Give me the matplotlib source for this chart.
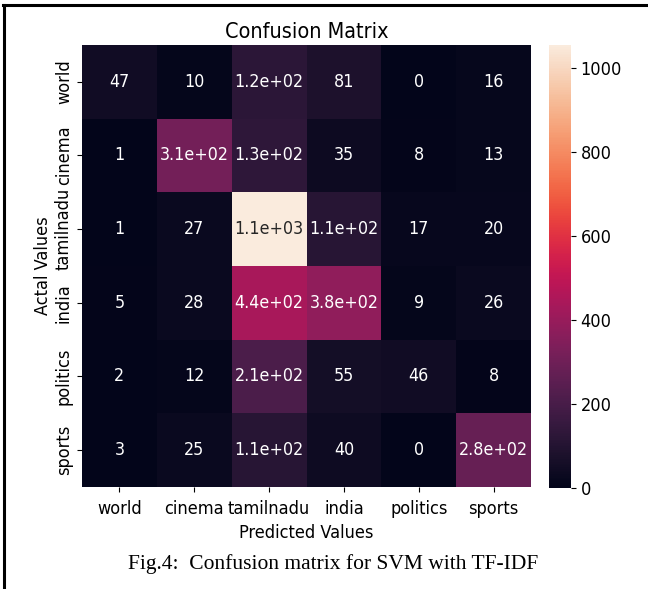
import matplotlib
matplotlib.use("Agg")
from matplotlib import pyplot as plt
from matplotlib.lines import Line2D
import numpy as np
import seaborn as sns

labels = ['world', 'cinema', 'tamilnadu', 'india', 'politics', 'sports']

row_world = [47, 10, 120, 81, 0, 16]
row_cinema = [1, 310, 130, 35, 8, 13]
row_tamilnadu = [1, 27, 1055, 110, 17, 20]
row_india = [5, 28, 440, 380, 9, 26]
row_politics = [2, 12, 210, 55, 46, 8]
row_sports = [3, 25, 110, 40, 0, 280]

cm = np.array([row_world, row_cinema, row_tamilnadu, row_india, row_politics, row_sports])

fig = plt.figure(figsize=(6.48, 5.89), dpi=100)
ax = fig.add_axes([0.1265, 0.1732, 0.693, 0.7504])
cax = fig.add_axes([0.847, 0.1715, 0.034, 0.752])

txt = dict(family='DejaVu Sans', fontstretch='condensed')

sns.heatmap(cm, annot=True, ax=ax, cbar_ax=cax,
            annot_kws={'size': 12.8, **txt},
            xticklabels=labels, yticklabels=labels)

ax.set_title('Confusion Matrix', fontsize=15.5, pad=5, **txt)
ax.set_xlabel('Predicted Values', fontsize=13, labelpad=4, **txt)
ax.set_ylabel('Actal Values', fontsize=13, labelpad=2, **txt)
ax.set_xticklabels(labels, rotation=0, fontsize=13, **txt)
ax.set_yticklabels(labels, rotation=90, va='center', fontsize=13, **txt)
ax.tick_params(axis='x', pad=6)
ax.tick_params(axis='y', pad=3)
cax.tick_params(labelsize=13)
for t in cax.get_yticklabels():
    t.set_fontstretch('condensed')

fig.text(0.514, 0.043, 'Fig.4:  Confusion matrix for SVM with TF-IDF',
         ha='center', va='center', fontsize=15.5, family='Liberation Serif')

# frame from the paper page
fig.add_artist(Line2D([0.005, 1.0], [0.991, 0.991], color='black', lw=2.2))
fig.add_artist(Line2D([0.006, 0.006], [0.0, 0.991], color='black', lw=2.2))

plt.savefig("out.png", dpi=100)
